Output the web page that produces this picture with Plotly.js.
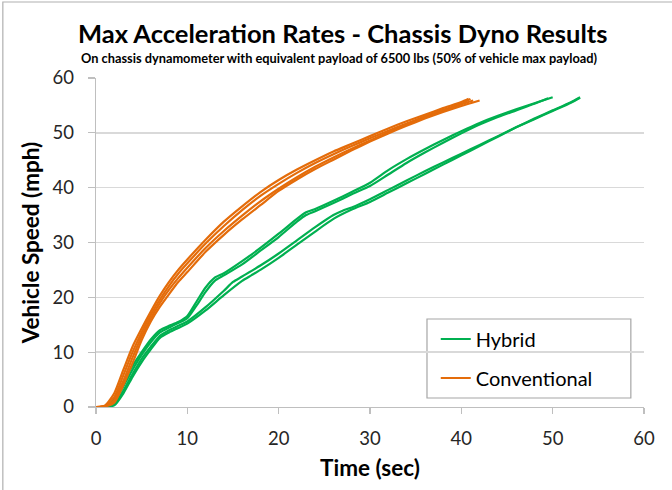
<!DOCTYPE html>
<html>
<head>
<meta charset="utf-8">
<script src="https://cdn.plot.ly/plotly-3.0.1.min.js"></script>
<style>html,body{margin:0;padding:0;background:#fff;}#chart{width:672px;height:490px;}</style>
</head>
<body>
<div id="chart"></div>
<script>
// Hybrid runs (time in sec, speed in mph)
var hyb1T = [0,1,2,3,4,5,6,7,8,9,10,11,12,13,14,16,18,20,22,23,24,26,28,30,32,34,36,38,40,42,44,46,48,50];
var hyb1V = [0,0,1.5,4.5,7.5,10,12.3,14,14.8,15.5,16.6,19.2,21.8,23.6,24.4,26.6,29,31.6,34.3,35.5,36.1,37.6,39.2,40.9,43.2,45.2,47,48.7,50.3,51.8,53.1,54.3,55.4,56.5];
var hyb2T = [0,1,2,3,4,5,6,7,8,9,10,11,12,13,14,16,18,20,22,23,24,26,28,30,32,34,36,38,40,42,44,46,48,49.5];
var hyb2V = [0,0,1,3.8,6.8,9.5,11.8,13.6,14.5,15.3,16.2,18.5,21,23,24,26,28.5,31,33.8,35,35.7,37.2,38.8,40.3,42.4,44.5,46.4,48.2,49.9,51.5,52.9,54.1,55.3,56.3];
var hyb3T = [0,1,2,3,4,5,6,7,8,9,10,12,14,15,16,18,20,22,24,26,27,28,30,32,34,36,38,40,42,44,46,48,50,52,53];
var hyb3V = [0,0,0.5,3,6,8.8,11,13,14,14.8,15.6,18.2,21.2,22.8,23.8,25.8,28,30.4,32.8,35,35.8,36.4,37.9,39.6,41.3,43,44.6,46.2,47.8,49.4,51,52.5,54,55.5,56.4];
var hyb4T = [0,1,2,3,4,5,6,7,8,9,10,12,14,16,17,18,20,22,24,26,28,30,32,34,36,38,40,42,44,46,48,50,52,53];
var hyb4V = [0,0,0.3,2.5,5.5,8.2,10.5,12.6,13.6,14.4,15.2,17.6,20.4,23,24,25,27.2,29.6,32,34.3,36,37.4,39.1,40.8,42.5,44.2,45.9,47.6,49.3,51,52.6,54.1,55.6,56.5];

// Conventional runs
var conv1T = [0,1,2,3,4,5,6,7,8,9,10,12,14,16,18,20,22,24,26,28,30,32,34,36,38,40,40.8];
var conv1V = [0,0.3,2.5,6.8,11,14.3,17.4,20.3,22.8,25,26.9,30.5,33.8,36.6,39.2,41.4,43.3,45,46.6,48,49.4,50.8,52.1,53.3,54.5,55.6,56.2];
var conv2T = [0,1,2,3,4,5,6,7,8,9,10,12,14,16,18,20,22,24,26,28,30,32,34,36,38,40,41];
var conv2V = [0,0.2,1.8,5.8,10,13.6,16.8,19.6,22.1,24.3,26.2,29.8,33,35.9,38.5,40.7,42.7,44.5,46.1,47.6,49,50.4,51.7,53,54.2,55.3,56.2];
var conv3T = [0,1,2,3,4,5,6,7,8,9,10,12,14,16,18,20,22,24,26,28,30,32,34,36,38,40,41.3];
var conv3V = [0,0.1,1.2,4.8,9,12.9,16.2,19,21.4,23.5,25.4,29,32.1,34.9,37.5,39.8,41.9,43.8,45.5,47.1,48.6,50.1,51.5,52.8,54,55.2,55.9];
var conv4T = [0,1,2,3,4,5,6,7,8,9,10,12,14,16,18,20,22,24,26,28,30,32,34,36,38,40,42];
var conv4V = [0,0.1,0.8,4,8,12.2,15.6,18.3,20.6,22.8,24.6,28.3,31.4,34.2,36.8,39.4,41.5,43.4,45.1,46.8,48.4,49.9,51.3,52.6,53.8,54.9,55.9];

var seriesNames = ["Hybrid", "Conventional"];
var xTickVals = [0,10,20,30,40,50,60];
var yTickVals = [0,10,20,30,40,50,60];

var GREEN = "#00B050", ORANGE = "#E46C0A";
var FONT = "Lato, 'Open Sans', sans-serif";

function run(t, v, group, color, show) {
  return {
    x: t, y: v, type: "scatter", mode: "lines",
    name: group, legendgroup: group, showlegend: show,
    line: {color: color, width: 2.2, shape: "spline", smoothing: 0.6},
    hoverinfo: "x+y"
  };
}

var data = [
  run(hyb1T, hyb1V, seriesNames[0], GREEN, true),
  run(hyb2T, hyb2V, seriesNames[0], GREEN, false),
  run(hyb3T, hyb3V, seriesNames[0], GREEN, false),
  run(hyb4T, hyb4V, seriesNames[0], GREEN, false),
  run(conv1T, conv1V, seriesNames[1], ORANGE, true),
  run(conv2T, conv2V, seriesNames[1], ORANGE, false),
  run(conv3T, conv3V, seriesNames[1], ORANGE, false),
  run(conv4T, conv4V, seriesNames[1], ORANGE, false)
];

var layout = {
  width: 672, height: 490,
  margin: {l: 96, r: 28, t: 78, b: 83},
  paper_bgcolor: "#ffffff", plot_bgcolor: "#ffffff",
  font: {family: FONT, color: "#404040"},
  title: {
    text: "<b>Max Acceleration Rates - Chassis Dyno Results</b>",
    font: {family: FONT, size: 25.5, color: "#000000"},
    xref: "container", x: 0.51, xanchor: "center",
    yref: "container", y: 0.931, yanchor: "middle"
  },
  annotations: [{
    text: "<b>On chassis dynamometer with equivalent payload of 6500 lbs (50% of vehicle max payload)</b>",
    xref: "paper", yref: "paper", x: 0.445, y: 1.061, xanchor: "center", yanchor: "middle",
    showarrow: false, font: {family: FONT, size: 12.8, color: "#000000"}
  }],
  xaxis: {
    range: [0, 60], tickvals: xTickVals, ticktext: xTickVals.map(String),
    showgrid: false, zeroline: false,
    showline: true, linecolor: "#BFBFBF", linewidth: 1.3,
    ticks: "outside", ticklen: 6, tickcolor: "#BFBFBF", tickwidth: 1.3,
    ticklabelstandoff: 8,
    tickfont: {family: FONT, size: 18.5, color: "#262626"},
    title: {text: "<b>Time (sec)</b>", font: {family: FONT, size: 22.5, color: "#000000"}, standoff: 12},
    fixedrange: true
  },
  yaxis: {
    range: [0, 60], tickvals: yTickVals, ticktext: yTickVals.map(String),
    showgrid: true, gridcolor: "#D9D9D9", gridwidth: 1.5, zeroline: false,
    showline: true, linecolor: "#BFBFBF", linewidth: 1.3,
    ticks: "outside", ticklen: 7, tickcolor: "#BFBFBF", tickwidth: 1.3,
    ticklabelstandoff: 10,
    tickfont: {family: FONT, size: 18.5, color: "#262626"},
    title: {text: "<b>Vehicle Speed (mph)</b>", font: {family: FONT, size: 22.5, color: "#000000"}, standoff: 6},
    fixedrange: true
  },
  showlegend: true,
  legend: {
    x: 0.62, y: 0.266, xanchor: "left", yanchor: "top",
    xref: "paper", yref: "paper",
    bgcolor: "rgba(0,0,0,0)", borderwidth: 0,
    traceorder: "grouped", tracegroupgap: 10,
    font: {family: FONT, size: 20, color: "#000000"}
  },
  shapes: [
    {type: "rect", xref: "paper", yref: "paper", x0: 0.604, x1: 0.976, y0: 0.0274, y1: 0.2675,
     line: {color: "#A6A6A6", width: 1.2}, fillcolor: "#ffffff", layer: "below"},
    {type: "rect", xref: "paper", yref: "paper", x0: -0.170, x1: 1.06, y0: -0.27, y1: 1.231,
     line: {color: "#B0B0B0", width: 1.2}, fillcolor: "rgba(0,0,0,0)", layer: "above"}
  ]
};

Plotly.newPlot("chart", data, layout, {staticPlot: true, displayModeBar: false});
</script>
</body>
</html>
